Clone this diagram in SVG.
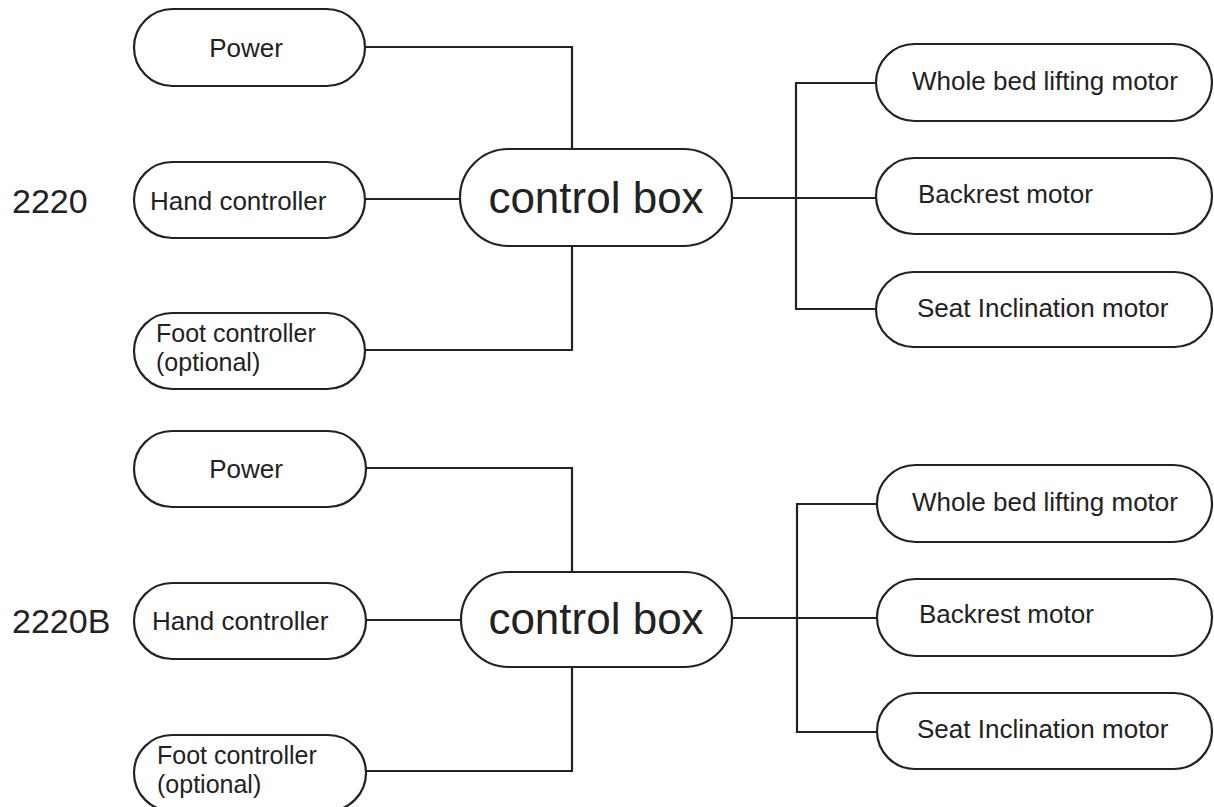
<svg xmlns="http://www.w3.org/2000/svg" width="1214" height="807" viewBox="0 0 1214 807">
<style>
.node{fill:#fff;stroke:#222;stroke-width:2.2}
.wire{fill:none;stroke:#222;stroke-width:2.2}
text{font-family:"Liberation Sans",Arial,sans-serif;fill:#222}
.lbl{font-size:26px}
.sm{font-size:25px}
.big{font-size:44px}
.title{font-size:34px}
</style>
<rect width="1214" height="807" fill="#fff"/>
<g id="connectors">
<path class="wire" d="M365,47 H572 V149"/>
<path class="wire" d="M365,199 H460"/>
<path class="wire" d="M365,350 H572 V246"/>
<path class="wire" d="M732,198 H876"/>
<path class="wire" d="M876,83 H796 V309 H876"/>
<path class="wire" d="M366,468 H572 V572"/>
<path class="wire" d="M366,620 H461"/>
<path class="wire" d="M366,771 H572 V667"/>
<path class="wire" d="M732,618 H877"/>
<path class="wire" d="M877,504 H797 V732 H877"/>
</g>
<g id="label-2220"><text class="title" x="12" y="213">2220</text></g>
<g id="label-2220B"><text class="title" x="12" y="633">2220B</text></g>
<g id="power-1"><rect class="node" x="134" y="9" width="231" height="77" rx="38.5"/><text class="lbl" x="246" y="57" text-anchor="middle">Power</text></g>
<g id="hand-1"><rect class="node" x="134" y="162" width="231" height="76" rx="38"/><text class="lbl" x="150" y="210">Hand controller</text></g>
<g id="foot-1"><rect class="node" x="134" y="313" width="231" height="76" rx="38"/><text class="sm" x="156" y="342">Foot controller</text><text class="sm" x="156" y="371">(optional)</text></g>
<g id="control-1"><rect class="node" x="460" y="149" width="272" height="97" rx="48.5"/><text class="big" x="596" y="213" text-anchor="middle">control box</text></g>
<g id="whole-1"><rect class="node" x="876" y="44" width="336" height="77" rx="38.5"/><text class="lbl" x="1045" y="90" text-anchor="middle">Whole bed lifting motor</text></g>
<g id="back-1"><rect class="node" x="876" y="158" width="336" height="76" rx="38"/><text class="lbl" x="918" y="203">Backrest motor</text></g>
<g id="seat-1"><rect class="node" x="876" y="272" width="336" height="75" rx="37.5"/><text class="lbl" x="917" y="317">Seat Inclination motor</text></g>
<g id="power-2"><rect class="node" x="134" y="431" width="232" height="76" rx="38"/><text class="lbl" x="246" y="478" text-anchor="middle">Power</text></g>
<g id="hand-2"><rect class="node" x="134" y="583" width="232" height="76" rx="38"/><text class="lbl" x="152" y="630">Hand controller</text></g>
<g id="foot-2"><rect class="node" x="134" y="735" width="232" height="76" rx="38"/><text class="sm" x="157" y="764">Foot controller</text><text class="sm" x="157" y="793">(optional)</text></g>
<g id="control-2"><rect class="node" x="461" y="572" width="271" height="95" rx="47.5"/><text class="big" x="596" y="634" text-anchor="middle">control box</text></g>
<g id="whole-2"><rect class="node" x="877" y="465" width="335" height="77" rx="38.5"/><text class="lbl" x="1045" y="511" text-anchor="middle">Whole bed lifting motor</text></g>
<g id="back-2"><rect class="node" x="877" y="579" width="335" height="77" rx="38.5"/><text class="lbl" x="919" y="623">Backrest motor</text></g>
<g id="seat-2"><rect class="node" x="877" y="693" width="335" height="76" rx="38"/><text class="lbl" x="917" y="738">Seat Inclination motor</text></g>
</svg>
